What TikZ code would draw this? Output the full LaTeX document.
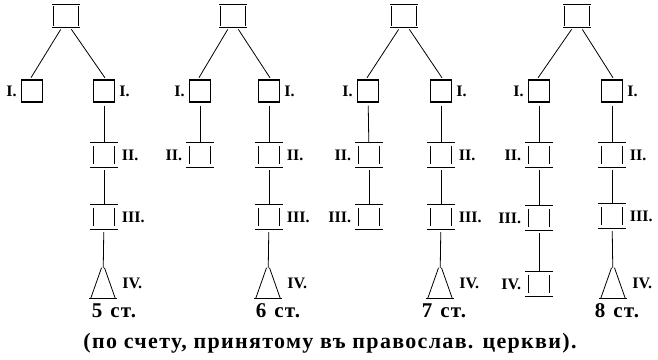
\documentclass[tikz,border=0pt]{standalone}
\usepackage{fontspec}
\usepackage{tikz}
\usetikzlibrary{positioning}
\setmainfont{Liberation Serif}

\tikzset{
    sq/.style={draw, line width=1.2pt, minimum width=21pt, minimum height=22pt, inner sep=0pt},
    topbox/.style={minimum width=25pt, minimum height=23pt, inner sep=0pt,
        append after command={
            ([xshift=-1pt]\tikzlastnode.north west) edge[line width=.9pt] ([xshift=1pt]\tikzlastnode.north east)
            ([xshift=-1pt]\tikzlastnode.south west) edge[line width=.9pt] ([xshift=1pt]\tikzlastnode.south east)
            (\tikzlastnode.north west) edge[line width=.8pt, shorten <=2pt, shorten >=2pt] (\tikzlastnode.south west)
            (\tikzlastnode.north east) edge[line width=.8pt, shorten <=2pt, shorten >=2pt] (\tikzlastnode.south east)}},
    drum/.style={minimum width=21pt, minimum height=24pt, inner sep=0pt,
        append after command={
            ([xshift=-3.5pt]\tikzlastnode.north west) edge[line width=.9pt] ([xshift=3.5pt]\tikzlastnode.north east)
            ([xshift=-3.5pt]\tikzlastnode.south west) edge[line width=.9pt] ([xshift=3.5pt]\tikzlastnode.south east)
            (\tikzlastnode.north west) edge[line width=.6pt, shorten <=3pt, shorten >=3pt] (\tikzlastnode.south west)
            (\tikzlastnode.north east) edge[line width=.6pt, shorten <=3pt, shorten >=3pt] (\tikzlastnode.south east)}},
    tri/.style={minimum width=28pt, minimum height=30pt, inner sep=0pt,
        append after command={
            ([xshift=-1.5pt]\tikzlastnode.north) edge[line width=.8pt] ([xshift=2pt]\tikzlastnode.south west)
            ([xshift=1.5pt]\tikzlastnode.north) edge[line width=.8pt] ([xshift=-2pt]\tikzlastnode.south east)
            (\tikzlastnode.south west) edge[line width=.9pt] (\tikzlastnode.south east)}},
    link/.style={draw, line width=.8pt},
    lab/.style={font=\fontsize{16}{16}\selectfont\bfseries, inner sep=0pt},
    stlab/.style={font=\fontsize{21}{21}\selectfont\bfseries\addfontfeature{LetterSpace=6}, inner sep=0pt},
}

\begin{document}
\begin{tikzpicture}[x=1pt, y=-1pt]
    \useasboundingbox (0,0) rectangle (658,359);

    % 5 ст.
    \node[topbox] (g1top) at (66,16) {};
    \node[sq] (g1l1) at (32,91) {};
    \node[sq] (g1r1) at (104,91) {};
    \node[drum] (g1r2) at (104,155) {};
    \node[drum] (g1r3) at (104,217) {};
    \node[tri] (g1r4) at (103,283) {};
    \draw[link, shorten <=2pt, shorten >=2pt] (g1top.250) -- (g1l1.100);
    \draw[link, shorten <=2pt, shorten >=2pt] (g1top.290) -- (g1r1.80);
    \draw[link, shorten <=3pt] (g1r1) -- (g1r2);
    \draw[link, shorten <=3pt] (g1r2) -- (g1r3);
    \draw[link, shorten <=3pt] (g1r3) -- (g1r4);
    \node[lab, left=4pt of g1l1] {I.};
    \node[lab, right=4pt of g1r1] {I.};
    \node[lab, right=7pt of g1r2] {II.};
    \node[lab, right=7pt of g1r3] {III.};
    \node[lab, right=5pt of g1r4] {IV.};
    \node[stlab] (g1st) at (114,311) {5\hspace{8pt}ст.};

    % 6 ст.
    \node[topbox] (g2top) at (233,16) {};
    \node[sq] (g2l1) at (200,91) {};
    \node[drum] (g2l2) at (200,155) {};
    \node[sq] (g2r1) at (269,91) {};
    \node[drum] (g2r2) at (269,155) {};
    \node[drum] (g2r3) at (269,217) {};
    \node[tri] (g2r4) at (268,283) {};
    \draw[link, shorten <=2pt, shorten >=2pt] (g2top.250) -- (g2l1.100);
    \draw[link, shorten <=2pt, shorten >=2pt] (g2top.290) -- (g2r1.80);
    \draw[link, shorten <=3pt] (g2l1) -- (g2l2);
    \draw[link, shorten <=3pt] (g2r1) -- (g2r2);
    \draw[link, shorten <=3pt] (g2r2) -- (g2r3);
    \draw[link, shorten <=3pt] (g2r3) -- (g2r4);
    \node[lab, left=4pt of g2l1] {I.};
    \node[lab, left=7pt of g2l2] {II.};
    \node[lab, right=4pt of g2r1] {I.};
    \node[lab, right=7pt of g2r2] {II.};
    \node[lab, right=7pt of g2r3] {III.};
    \node[lab, right=5pt of g2r4] {IV.};
    \node[stlab] (g2st) at (278,311) {6\hspace{8pt}ст.};

    % 7 ст.
    \node[topbox] (g3top) at (404,16) {};
    \node[sq] (g3l1) at (368,91) {};
    \node[drum] (g3l2) at (369,155) {};
    \node[drum] (g3l3) at (369,217) {};
    \node[sq] (g3r1) at (441,91) {};
    \node[drum] (g3r2) at (441,155) {};
    \node[drum] (g3r3) at (441,217) {};
    \node[tri] (g3r4) at (440,283) {};
    \draw[link, shorten <=2pt, shorten >=2pt] (g3top.250) -- (g3l1.100);
    \draw[link, shorten <=2pt, shorten >=2pt] (g3top.290) -- (g3r1.80);
    \draw[link, shorten <=3pt] (g3l1) -- (g3l2);
    \draw[link, shorten <=3pt] (g3l2) -- (g3l3);
    \draw[link, shorten <=3pt] (g3r1) -- (g3r2);
    \draw[link, shorten <=3pt] (g3r2) -- (g3r3);
    \draw[link, shorten <=3pt] (g3r3) -- (g3r4);
    \node[lab, left=4pt of g3l1] {I.};
    \node[lab, left=7pt of g3l2] {II.};
    \node[lab, left=7pt of g3l3] {III.};
    \node[lab, right=4pt of g3r1] {I.};
    \node[lab, right=7pt of g3r2] {II.};
    \node[lab, right=7pt of g3r3] {III.};
    \node[lab, right=5pt of g3r4] {IV.};
    \node[stlab] (g3st) at (444,311) {7\hspace{8pt}ст.};

    % 8 ст.
    \node[topbox] (g4top) at (577,16) {};
    \node[sq] (g4l1) at (539,91) {};
    \node[drum] (g4l2) at (539,155) {};
    \node[drum] (g4l3) at (539,218) {};
    \node[drum] (g4l4) at (539,284) {};
    \node[sq] (g4r1) at (612,91) {};
    \node[drum] (g4r2) at (612,155) {};
    \node[drum] (g4r3) at (612,216) {};
    \node[tri] (g4r4) at (613,283) {};
    \draw[link, shorten <=2pt, shorten >=2pt] (g4top.250) -- (g4l1.100);
    \draw[link, shorten <=2pt, shorten >=2pt] (g4top.290) -- (g4r1.80);
    \draw[link, shorten <=3pt] (g4l1) -- (g4l2);
    \draw[link, shorten <=3pt] (g4l2) -- (g4l3);
    \draw[link, shorten <=3pt] (g4l3) -- (g4l4);
    \draw[link, shorten <=3pt] (g4r1) -- (g4r2);
    \draw[link, shorten <=3pt] (g4r2) -- (g4r3);
    \draw[link, shorten <=3pt] (g4r3) -- (g4r4);
    \node[lab, left=4pt of g4l1] {I.};
    \node[lab, left=7pt of g4l2] {II.};
    \node[lab, left=7pt of g4l3] {III.};
    \node[lab, left=7pt of g4l4] {IV.};
    \node[lab, right=4pt of g4r1] {I.};
    \node[lab, right=7pt of g4r2] {II.};
    \node[lab, right=7pt of g4r3] {III.};
    \node[lab, right=5pt of g4r4] {IV.};
    \node[stlab] (g4st) at (617,311) {8\hspace{8pt}ст.};

    \node[stlab, font=\fontsize{22}{22}\selectfont\bfseries\addfontfeature{LetterSpace=6}] (note) at (330,343) {(по счету, принятому въ православ. церкви).};
\end{tikzpicture}
\end{document}
